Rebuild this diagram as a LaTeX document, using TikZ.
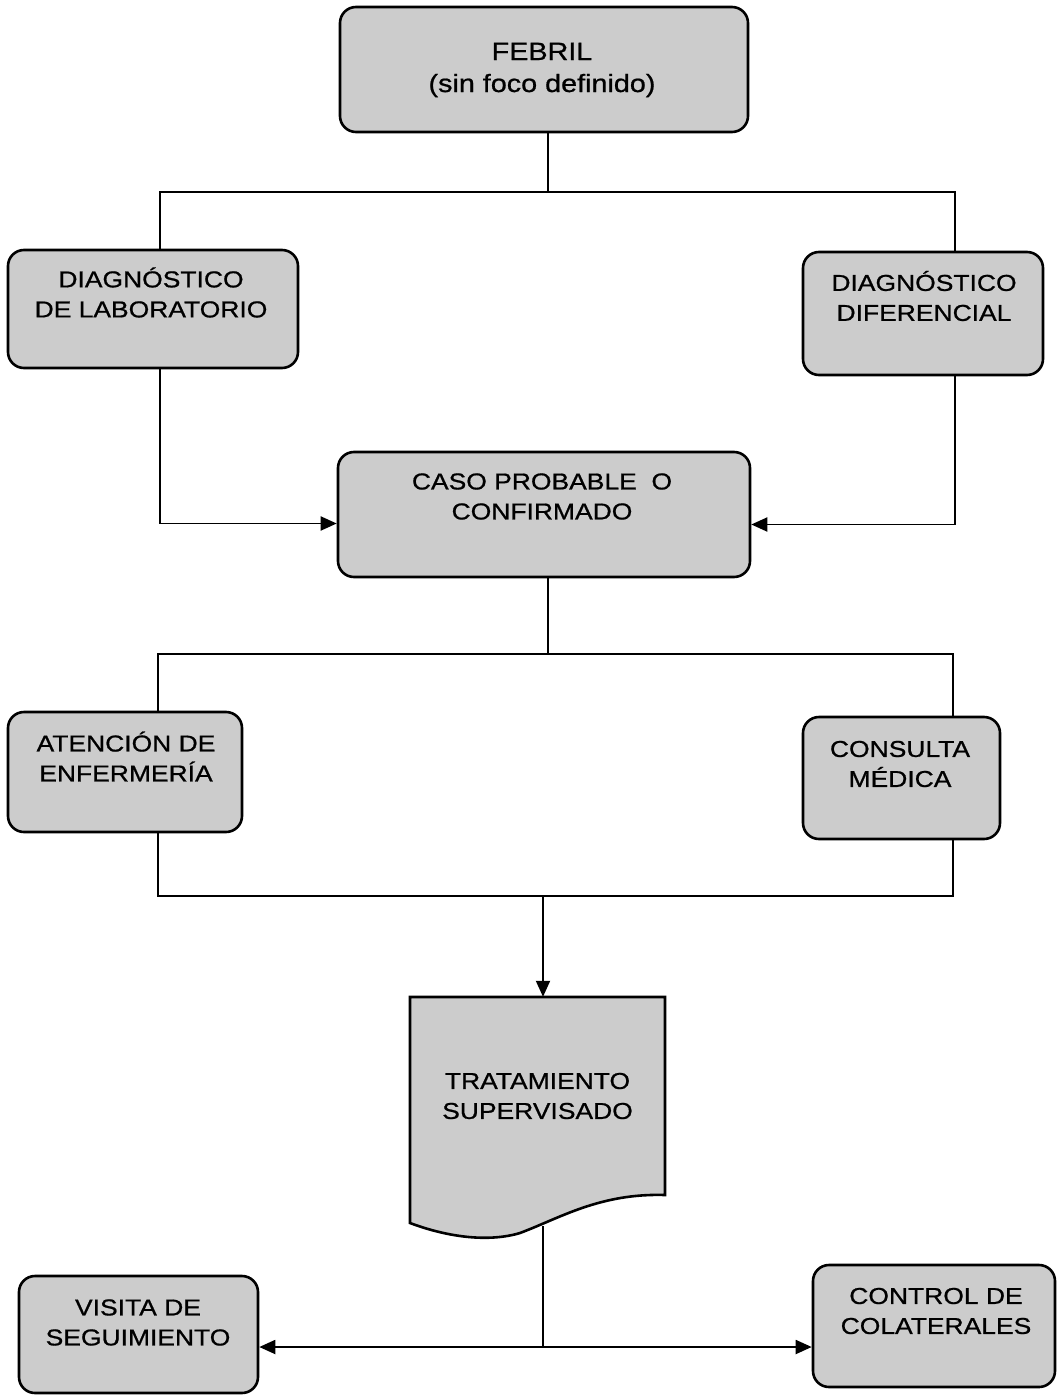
\documentclass[tikz,border=0pt]{standalone}
\usepackage{fontspec}
\setmainfont{Liberation Sans}[FakeStretch=1.15,FakeBold=0.8]
\usetikzlibrary{arrows.meta}
\definecolor{boxgray}{gray}{0.8}

\begin{document}
\begin{tikzpicture}[x=1pt, y=-1pt,
  box/.style={draw=black, fill=boxgray, line width=2.6pt, rounded corners=16pt, inner sep=0pt},
  docbox/.style={draw=black, fill=boxgray, line width=2.6pt},
  txt/.style={align=center, inner sep=0pt, font=\fontsize{23}{30}\selectfont},
  line/.style={line width=1.9pt},
  arr/.style={line width=1.9pt, -{Triangle[length=16pt,width=14pt]}}]

  \useasboundingbox (0,0) rectangle (1057,1396);

  %% top box
  \node[box, minimum width=408pt, minimum height=125pt] (febril) at (544,69.5) {};
  \node[txt, font=\fontsize{25}{32}\selectfont] (febrilT) at (542,70) {FEBRIL\\(sin foco definido)};

  %% the two diagnoses
  \node[box, minimum width=290pt, minimum height=118pt] (lab) at (153,309) {};
  \node[txt] (labT) at (151,292.5) {DIAGNÓSTICO\\DE LABORATORIO};
  \node[box, minimum width=240pt, minimum height=123pt] (dif) at (923,313.5) {};
  \node[txt] (difT) at (924,296) {DIAGNÓSTICO\\DIFERENCIAL};

  %% case
  \node[box, minimum width=412pt, minimum height=125pt] (caso) at (544,514.5) {};
  \node[txt] (casoT) at (542,496.5) {CASO PROBABLE\ \ O\\CONFIRMADO};

  %% attention
  \node[box, minimum width=234pt, minimum height=120pt] (aten) at (125,772) {};
  \node[txt] (atenT) at (126,756.5) {ATENCIÓN DE\\ENFERMERÍA};
  \node[box, minimum width=197pt, minimum height=122pt] (cons) at (901.5,778) {};
  \node[txt] (consT) at (900,764) {CONSULTA\\MÉDICA};

  %% treatment (document shape)
  \draw[docbox] (410,997) -- (665,997) -- (665,1195)
    .. controls (600,1193) and (560,1218) .. (520,1233)
    .. controls (490,1242) and (450,1238) .. (410,1223) -- cycle;
  \node[txt, minimum width=255pt, minimum height=198pt] (trat) at (537.5,1096) {TRATAMIENTO\\SUPERVISADO};

  %% follow up
  \node[box, minimum width=239pt, minimum height=117pt] (visita) at (138.5,1334.5) {};
  \node[txt] (visitaT) at (138,1322.5) {VISITA DE\\SEGUIMIENTO};
  \node[box, minimum width=242pt, minimum height=122pt] (control) at (934,1326) {};
  \node[txt] (controlT) at (936,1311) {CONTROL DE\\COLATERALES};

  %% connectors
  \coordinate (r1L) at (160,192);
  \coordinate (r1R) at (955,192);
  \coordinate (febS) at ([xshift=4pt]febril.south);
  \draw[line] (febS) -- (febS |- r1L);
  \draw[line] (lab.north -| r1L) -- (r1L) -- (r1R) -- (dif.north -| r1R);

  \coordinate (inL) at ([yshift=-9pt]caso.west);
  \coordinate (inR) at ([yshift=-10pt]caso.east);
  \draw[arr] (lab.south -| r1L) -- (r1L |- inL) -- (inL);
  \draw[arr] (dif.south -| r1R) -- (r1R |- inR) -- (inR);

  \coordinate (r2L) at (158,654);
  \coordinate (r2R) at (953,654);
  \coordinate (casoS) at ([xshift=4pt]caso.south);
  \draw[line] (casoS) -- (casoS |- r2L);
  \draw[line] (aten.north -| r2L) -- (r2L) -- (r2R) -- (cons.north -| r2R);

  \coordinate (r3L) at (158,896);
  \coordinate (r3R) at (953,896);
  \coordinate (r3M) at (543,896);
  \draw[line] (aten.south -| r3L) -- (r3L) -- (r3R) -- (cons.south -| r3R);
  \draw[arr] (r3M) -- (r3M |- trat.north);

  \coordinate (tratS) at (543,1226);
  \coordinate (r4) at (543,1347);
  \draw[line] (tratS) -- (r4);
  \draw[arr] (r4) -- (r4 -| visita.east);
  \draw[arr] (r4) -- (r4 -| control.west);

\end{tikzpicture}
\end{document}
